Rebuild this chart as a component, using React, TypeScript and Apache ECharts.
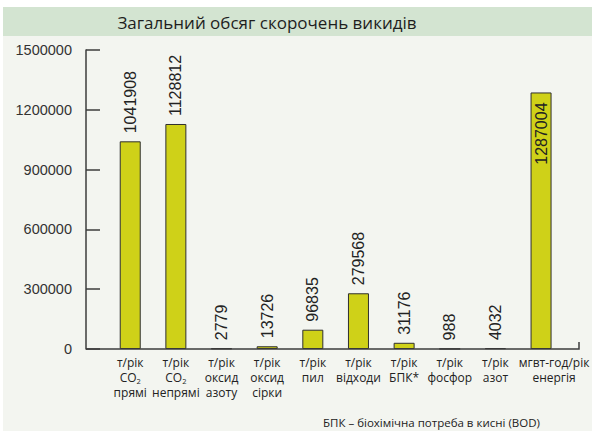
import React, { useEffect, useRef } from "react";
import * as echarts from "echarts";

const categories = [
  "т/рік\nCO{s|2}\nпрямі",
  "т/рік\nCO{s|2}\nнепрямі",
  "т/рік\nоксид\nазоту",
  "т/рік\nоксид\nсірки",
  "т/рік\nпил",
  "т/рік\nвідходи",
  "т/рік\nБПК*",
  "т/рік\nфосфор",
  "т/рік\nазот",
  "{e|мгвт-год/рік}\n{e|енергія}",
];
const values = [1041908, 1128812, 2779, 13726, 96835, 279568, 31176, 988, 4032, 1287004];
const yTicks = { min: 0, max: 1500000, interval: 300000 };
const titleText = "Загальний обсяг скорочень викидів";
const footnote = "БПК – біохімічна потреба в кисні (BOD)";

const NARROW = "'Liberation Sans Narrow', 'Arial Narrow', 'Liberation Sans', sans-serif";
const HUMAN = "'Open Sans', 'Noto Sans', sans-serif";

export default function App() {
  const ref = useRef<HTMLDivElement>(null);
  useEffect(() => {
    if (!ref.current) return;
    const chart = echarts.init(ref.current, undefined, { renderer: "svg" });
    const gridTop = 50;
    const gridH = 299;
    const gridLeft = 107.4;
    const gridW = 464;
    chart.setOption({
      animation: false,
      backgroundColor: "#ffffff",
      graphic: [
        { type: "rect", z: -10, shape: { x: 3, y: 7, width: 589, height: 29 }, style: { fill: "#d3e4d1" }, silent: true },
        { type: "rect", z: -10, shape: { x: 3, y: 36, width: 589, height: 395 }, style: { fill: "#f3f5f0" }, silent: true },
        {
          type: "text",
          z: 10,
          x: 267,
          y: 22,
          style: { text: titleText, fontFamily: HUMAN, fontSize: 17, fill: "#1e1e1e", align: "center", verticalAlign: "middle" },
        },
        {
          type: "polyline",
          z: 10,
          shape: { points: [[86, gridTop + gridH], [579, gridTop + gridH], [579, gridTop + gridH - 7]] },
          style: { stroke: "#3c3c3c", lineWidth: 1.5, fill: "none" },
        },
        {
          type: "text",
          z: 10,
          x: 323,
          y: 422,
          style: { text: footnote, fontFamily: HUMAN, fontSize: 11.5, fill: "#222", align: "left", verticalAlign: "middle" },
        },
      ],
      grid: { left: gridLeft, top: gridTop, width: gridW, height: gridH, containLabel: false },
      xAxis: {
        type: "category",
        data: categories,
        axisLine: { show: false },
        axisTick: { show: false },
        axisLabel: {
          interval: 0,
          margin: 6,
          fontFamily: HUMAN,
          fontSize: 12,
          color: "#222",
          lineHeight: 15,
          rich: {
            s: { fontSize: 7.5, lineHeight: 8, verticalAlign: "bottom", fontFamily: HUMAN, color: "#222" },
            e: { fontSize: 12, lineHeight: 15, fontFamily: HUMAN, color: "#222", padding: [0, 0, 0, 26] },
          },
        },
      },
      yAxis: {
        type: "value",
        min: yTicks.min,
        max: yTicks.max,
        interval: yTicks.interval,
        offset: gridLeft - 86,
        axisLine: { show: true, lineStyle: { color: "#3c3c3c", width: 1.5 } },
        axisTick: { show: true, inside: true, length: 14, lineStyle: { color: "#3c3c3c", width: 1.5 } },
        splitLine: { show: false },
        axisLabel: {
          fontFamily: NARROW,
          fontSize: 14.5,
          color: "#333",
          margin: 14,
          formatter: (v: number) => String(v),
        },
      },
      series: [
        {
          type: "bar",
          barWidth: 21,
          data: values.map((v, i) =>
            i === values.length - 1
              ? { value: v, label: { position: "insideTop", align: "right", distance: 10 } }
              : v
          ),
          itemStyle: { color: "#cfd118", borderColor: "#2f2f2f", borderWidth: 1 },
          label: {
            show: true,
            position: "top",
            rotate: 90,
            align: "left",
            verticalAlign: "middle",
            distance: 8,
            fontFamily: NARROW,
            fontSize: 16,
            color: "#222",
          },
        },
      ],
    });
    return () => chart.dispose();
  }, []);
  return <div ref={ref} style={{ position: "absolute", left: 0, top: 0, width: 592, height: 431 }} />;
}
